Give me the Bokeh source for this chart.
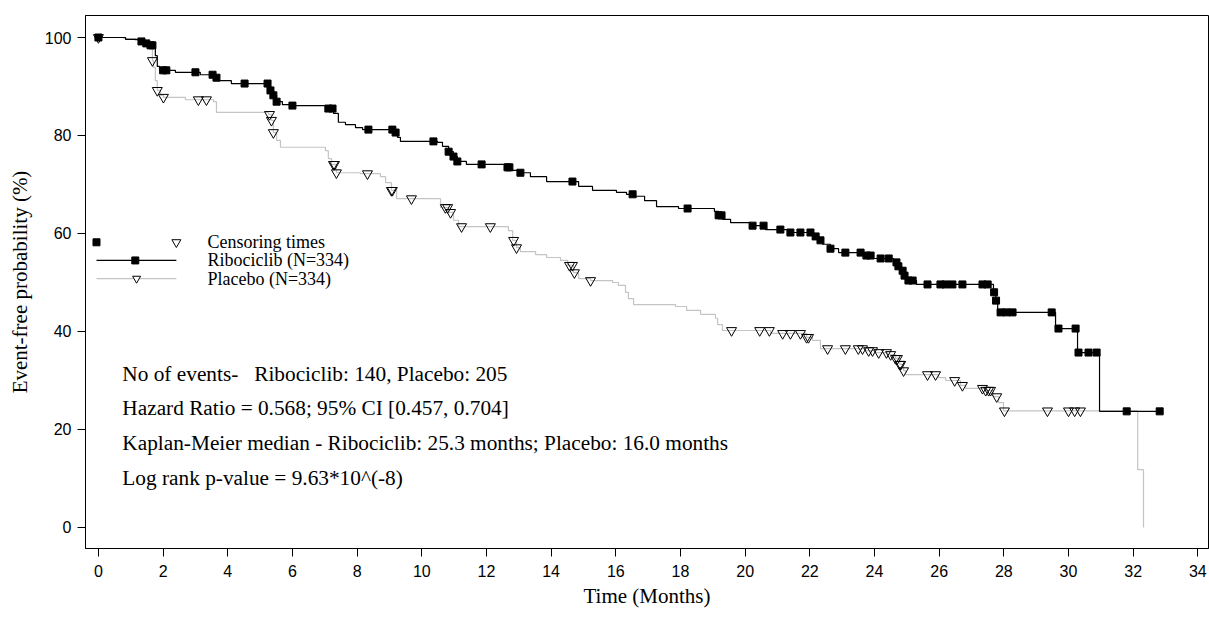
import numpy as np
from bokeh.plotting import figure
from bokeh.models import Range1d, Label, FixedTicker
from bokeh.embed import file_html
from bokeh.resources import INLINE

# ---------------- data ----------------
# Ribociclib KM step curve: time (months), event-free probability (%)
ribo_t = [0, 0.84, 1.30, 1.48, 1.61, 1.70, 1.76, 1.82, 1.89, 2.38, 3.15, 3.56, 3.71, 4.11,
          5.26, 5.32, 5.41, 5.51, 5.69, 5.94, 7.11, 7.27, 7.42, 7.64, 7.95, 8.17, 9.16, 9.25,
          9.34, 10.49, 10.64, 10.83, 10.98, 11.10, 11.38, 12.59, 12.74, 13.02, 13.36, 13.86,
          14.85, 15.28, 16.02, 16.33, 16.55, 16.89, 17.26, 17.94, 19.05, 19.18, 19.30, 19.55,
          20.17, 20.63, 21.40, 22.12, 22.24, 22.39, 22.64, 22.89, 23.72, 23.94, 24.59, 24.74,
          24.84, 24.93, 25.02, 25.30, 27.68, 27.75, 27.81, 29.60, 30.28, 30.96, 32.82]
ribo_s = [100, 99.6, 99.2, 98.8, 98.4, 97.8, 96.3, 94.1, 93.3, 92.9, 92.4, 91.8, 91.2, 90.6,
          90.0, 89.2, 88.2, 86.9, 86.3, 86.1, 85.5, 84.5, 82.7, 82.2, 81.6, 81.2, 80.6, 79.6,
          78.8, 78.6, 77.8, 76.7, 75.7, 74.7, 74.1, 73.5, 72.9, 72.4, 71.6, 70.6,
          69.6, 68.8, 68.4, 68.0, 67.6, 66.7, 65.5, 65.1, 64.5, 63.7, 62.9, 62.2,
          61.6, 60.8, 60.2, 59.4, 58.6, 57.8, 56.9, 56.1, 55.5, 54.9, 54.1, 53.3,
          52.4, 51.4, 50.4, 49.6, 48.0, 46.3, 43.9, 40.6, 35.7, 23.7, 23.7]
ribo_cens = [0, 1.33, 1.48, 1.61, 1.67, 2.0, 2.1, 3.0, 3.53, 3.65, 4.52, 5.23, 5.32, 5.41,
             5.51, 6.0, 7.11, 7.24, 8.35, 9.09, 9.19, 10.36, 10.83, 10.98, 11.10, 11.85,
             12.65, 12.71, 13.05, 14.66, 16.52, 18.22, 19.18, 19.27, 20.23, 20.57, 21.09,
             21.40, 21.71, 22.02, 22.18, 22.33, 22.64, 23.1, 23.57, 23.75, 23.88, 24.19,
             24.44, 24.68, 24.74, 24.87, 24.93, 25.05, 25.18, 25.64, 26.04, 26.2, 26.41,
             26.72, 27.34, 27.5, 27.70, 27.76, 27.9, 28.08, 28.27, 29.48, 29.69, 30.22,
             30.31, 30.62, 30.87, 31.8, 32.82]

# Placebo KM step curve
plac_t = [0, 0.77, 1.14, 1.45, 1.61, 1.67, 1.70, 1.76, 1.82, 1.92, 2.01, 2.69, 3.56, 3.65,
          5.26, 5.35, 5.41, 5.51, 5.63, 7.02, 7.11, 7.21, 7.36, 8.10, 8.72, 8.88, 9.06, 9.22,
          10.58, 10.83, 10.98, 11.14, 12.68, 12.81, 12.93, 13.05, 13.52, 13.86, 14.29, 14.51,
          14.69, 14.85, 15.22, 15.90, 16.08, 16.30, 16.39, 16.55, 17.85, 18.19, 18.62, 19.08,
          19.15, 19.30, 20.79, 21.90, 22.08, 22.33, 23.72, 24.03, 24.40, 24.65, 24.78, 24.90,
          24.96, 25.98, 26.20, 26.66, 26.82, 27.44, 27.68, 27.84, 27.99, 32.14, 32.32]
plac_s = [100, 99.8, 99.4, 98.9, 97.8, 95.3, 93.9, 91.2, 89.2, 88.2, 87.8, 87.3, 86.9, 84.7,
          84.3, 83.1, 80.6, 79.0, 77.6, 76.9, 75.3, 74.1, 72.4, 72.2, 71.6, 70.4, 68.8, 67.1,
          65.3, 64.3, 62.7, 61.4, 60.6, 58.6, 57.1, 56.3, 55.7, 55.1, 54.5, 53.5,
          52.0, 50.8, 50.4, 50.0, 49.4, 48.0, 46.7, 45.5, 45.1, 44.3, 43.5, 42.7,
          41.4, 40.2, 39.6, 38.8, 38.2, 36.5, 36.1, 35.7, 35.3, 34.5, 33.3, 32.0,
          31.2, 30.6, 30.0, 29.0, 28.4, 28.0, 26.7, 25.5, 23.8, 11.8, 0]
plac_cens = [0, 1.67, 1.82, 2.01, 3.09, 3.34, 5.29, 5.35, 5.41, 7.27, 7.30, 7.36, 8.32,
             9.06, 9.09, 9.68, 10.73, 10.80, 10.89, 11.23, 12.12, 12.84, 12.93, 14.57,
             14.66, 14.72, 15.22, 19.58, 20.45, 20.75, 21.16, 21.40, 21.71, 21.90, 21.96,
             22.55, 23.10, 23.50, 23.63, 23.82, 23.94, 24.13, 24.37, 24.50, 24.65, 24.71,
             24.78, 24.81, 24.90, 25.64, 25.89, 26.48, 26.72, 27.34, 27.44, 27.53, 27.59,
             27.78, 28.02, 29.35, 30.0, 30.19, 30.37]

x_ticks = list(range(0, 35, 2))
y_ticks = [0, 20, 40, 60, 80, 100]

annotations = ["No of events- \u00a0\u00a0Ribociclib: 140, Placebo: 205",
               "Hazard Ratio = 0.568; 95% CI [0.457, 0.704]",
               "Kaplan-Meier median - Ribociclib: 25.3 months; Placebo: 16.0 months",
               "Log rank p-value = 9.63*10^(-8)"]
legend_labels = ["Censoring times", "Ribociclib (N=334)", "Placebo (N=334)"]


def km_at(times, surv, q):
    idx = np.searchsorted(np.array(times), np.array(q), side="right") - 1
    return [surv[i] for i in idx]


GRAY = "#c4c4c4"
SERIF = "Liberation Serif"
SANS = "Liberation Sans"

p = figure(width=1209, height=628, output_backend="svg", toolbar_location=None,
           x_range=Range1d(-0.40, 34.33), y_range=Range1d(-4.29, 104.49))
p.min_border_left = 85
p.min_border_right = 1
p.min_border_top = 15
p.min_border_bottom = 80
p.outline_line_color = "black"
p.outline_line_width = 1
p.grid.visible = False
p.background_fill_color = "white"
p.border_fill_color = "white"

for ax in (p.xaxis[0], p.yaxis[0]):
    ax.major_tick_in = 0
    ax.major_tick_out = 8
    ax.minor_tick_line_color = None
    ax.axis_line_color = "black"
    ax.major_tick_line_color = "black"
    ax.major_label_text_font = SANS
    ax.major_label_text_font_size = "16px"
    ax.major_label_text_color = "black"
    ax.axis_label_text_font = SERIF
    ax.axis_label_text_font_size = "21px"
    ax.axis_label_text_font_style = "normal"
    ax.axis_label_text_color = "black"

p.xaxis.ticker = FixedTicker(ticks=x_ticks)
p.yaxis.ticker = FixedTicker(ticks=y_ticks)
p.xaxis.axis_label = "Time (Months)"
p.yaxis.axis_label = "Event-free probability (%)"
p.xaxis.major_label_standoff = 8
p.yaxis.major_label_standoff = 6
p.xaxis.axis_label_standoff = 4
p.yaxis.axis_label_standoff = 10

# Placebo curve (light gray)
p.step(plac_t, plac_s, mode="after", line_color=GRAY, line_width=1.2)
# Ribociclib curve (black)
p.step(ribo_t, ribo_s, mode="after", line_color="black", line_width=1.2)

# censoring marks
p.scatter(plac_cens, km_at(plac_t, plac_s, plac_cens), marker="inverted_triangle",
          size=10, fill_alpha=0, line_color="black", line_width=1)
p.scatter(ribo_cens, km_at(ribo_t, ribo_s, ribo_cens), marker="square",
          size=7, fill_color="black", line_color="black")

# ---------------- legend (hand drawn, as in reference) ----------------
p.scatter([-0.06], [58.2], marker="square", size=7, fill_color="black", line_color="black")
p.scatter([2.41], [58.2], marker="inverted_triangle", size=9, fill_alpha=0,
          line_color="black", line_width=1)
p.line([-0.06, 2.41], [54.5, 54.5], line_color="black", line_width=1.2)
p.scatter([1.14], [54.5], marker="square", size=7, fill_color="black", line_color="black")
p.line([-0.06, 2.41], [50.8, 50.8], line_color=GRAY, line_width=1.2)
p.scatter([1.18], [50.8], marker="inverted_triangle", size=8, fill_color="white",
          line_color="black", line_width=1)
for txt, yy in zip(legend_labels, [58.2, 54.5, 50.8]):
    p.add_layout(Label(x=3.37, y=yy, text=txt, text_font=SERIF, text_font_size="18px",
                       text_baseline="middle", text_color="black"))

for txt, yy in zip(annotations, [31.4, 24.3, 17.3, 10.2]):
    p.add_layout(Label(x=0.74, y=yy, text=txt, text_font=SERIF, text_font_size="21.3px",
                       text_baseline="middle", text_color="black"))

open("out.html", "w").write(file_html(p, INLINE))
